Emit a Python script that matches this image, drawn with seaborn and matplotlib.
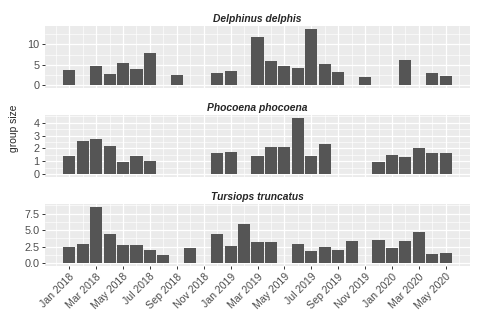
import pandas as pd
import numpy as np
import seaborn as sns
import matplotlib.pyplot as plt
from matplotlib.ticker import FixedLocator

# Monthly mean group size, Jan 2018 .. May 2020 (None = no sighting)
species = ['Delphinus delphis', 'Phocoena phocoena', 'Tursiops truncatus']

delphinus = [3.6, None, 4.7, 2.8, 5.5, 3.9, 8.0, None, 2.5, None, None, 3.0,
             3.4, None, 11.8, 5.8, 4.6, 4.2, 13.8, 5.2, 3.3, None, 2.0, None,
             None, 6.2, None, 3.0, 2.3]
phocoena = [1.44, 2.56, 2.77, 2.2, 0.97, 1.38, 1.0, None, None, None, None, 1.67,
            1.74, None, 1.44, 2.1, 2.13, 4.38, 1.44, 2.38, None, None, None, 0.97,
            1.49, 1.36, 2.05, 1.64, 1.64]
tursiops = [2.42, 2.87, 8.55, 4.43, 2.82, 2.82, 1.96, 1.26, None, 2.31, None, 4.43,
            2.67, 6.0, 3.22, 3.27, None, 2.92, 1.86, 2.42, 2.01, 3.37, None, 3.47,
            2.31, 3.37, 4.78, 1.36, 1.56]

tick_labels = ['Jan 2018', 'Mar 2018', 'May 2018', 'Jul 2018', 'Sep 2018', 'Nov 2018',
               'Jan 2019', 'Mar 2019', 'May 2019', 'Jul 2019', 'Sep 2019', 'Nov 2019',
               'Jan 2020', 'Mar 2020', 'May 2020']

y_breaks = {
    'Delphinus delphis': ([0, 5, 10], ['0', '5', '10']),
    'Phocoena phocoena': ([0, 1, 2, 3, 4], ['0', '1', '2', '3', '4']),
    'Tursiops truncatus': ([0, 2.5, 5, 7.5], ['0.0', '2.5', '5.0', '7.5']),
}

n = len(delphinus)
df = pd.DataFrame({
    'month': list(range(n)) * 3,
    'species': np.repeat(species, n),
    'size': delphinus + phocoena + tursiops,
}).dropna()

sns.set_style('darkgrid', {'axes.facecolor': '#EBEBEB', 'grid.color': 'white'})
plt.rcParams['font.family'] = ['Liberation Sans', 'DejaVu Sans']

W, H = 478, 321
fig = plt.figure(figsize=(W / 100, H / 100), dpi=100)
tops = [26, 115, 204]
major_x = list(range(0, n, 2))
minor_x = list(range(-1, n + 1, 2))

for i, sp in enumerate(species):
    ax = fig.add_axes([45 / W, 1 - (tops[i] + 62) / H, 425 / W, 62 / H])
    sub = df[df['species'] == sp]
    sns.barplot(data=sub, x='month', y='size', native_scale=True, width=0.9,
                color='#555555', saturation=1, errorbar=None, linewidth=0, ax=ax)
    ymax = sub['size'].max()
    ax.set_ylim(-0.05 * ymax, 1.05 * ymax)
    ax.set_xlim(-1.8, 29.8)

    yt, yl = y_breaks[sp]
    ax.yaxis.set_major_locator(FixedLocator(yt))
    ax.set_yticklabels(yl)
    step = yt[1] - yt[0]
    ax.yaxis.set_minor_locator(FixedLocator([v + step / 2 for v in [yt[0] - step] + yt]))
    ax.xaxis.set_major_locator(FixedLocator(major_x))
    ax.xaxis.set_minor_locator(FixedLocator(minor_x))

    ax.set_axisbelow(True)
    ax.grid(which='major', color='white', linewidth=0.9)
    ax.grid(which='minor', color='white', linewidth=0.45)
    for s in ax.spines.values():
        s.set_visible(False)

    ax.tick_params(which='minor', length=0)
    ax.tick_params(axis='y', which='major', length=2.5, width=0.7, color='#333333',
                   labelsize=7.8, labelcolor='#4D4D4D', pad=1.5, left=True)
    if i < 2:
        ax.tick_params(axis='x', which='major', length=0, labelbottom=False)
    else:
        ax.tick_params(axis='x', which='major', length=2.5, width=0.7, color='#333333',
                       labelsize=7.6, labelcolor='#4D4D4D', pad=1.5, bottom=True)
        ax.set_xticklabels(tick_labels, rotation=45, ha='right', va='top',
                           rotation_mode='anchor')
    ax.set_xlabel('')
    ax.set_ylabel('')
    ax.set_title(sp, fontsize=7.4, fontweight='bold', fontstyle='italic', pad=3)

fig.text(14 / W, 1 - 128 / H, 'group size', rotation=90, ha='center', va='center',
         fontsize=7.4)

fig.savefig('out.png', dpi=100)
